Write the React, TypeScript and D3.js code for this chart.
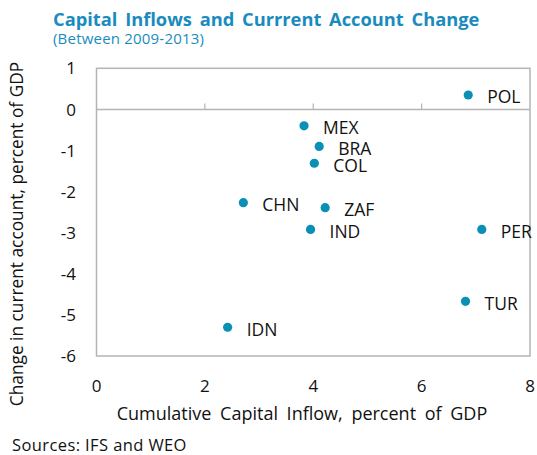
import React from "react";
import * as d3 from "d3";

const countries = ["POL", "MEX", "BRA", "COL", "CHN", "ZAF", "IND", "PER", "TUR", "IDN"];
const inflow = [6.86, 3.83, 4.11, 4.02, 2.71, 4.22, 3.95, 7.11, 6.81, 2.42];
const caChange = [0.35, -0.4, -0.9, -1.31, -2.27, -2.39, -2.92, -2.92, -4.67, -5.3];
const xTicks = [0, 2, 4, 6, 8];
const yTicks = [1, 0, -1, -2, -3, -4, -5, -6];

const W = 537;
const H = 455;
const FONT = "'Open Sans', sans-serif";
const BLUE = "#0a8fb5";
const TITLE = "#1a8bbe";
const GRID = "#b4b4b4";

export default function App() {
  const x = d3.scaleLinear().domain([0, 8]).range([96.5, 530]);
  const y = d3.scaleLinear().domain([-6, 1]).range([356, 68.3]);
  const pts = countries.map((c, i) => ({ c, x: inflow[i], y: caChange[i] }));
  return (
    <svg
      width={W}
      height={H}
      style={{ position: "absolute", left: 0, top: 0, background: "#fff" }}
      fontFamily={FONT}
    >
      <text x={53} y={25.5} fontSize={18.3} fontWeight="bold" fill={TITLE} wordSpacing={3}>
        Capital Inflows and Currrent Account Change
      </text>
      <text x={53} y={44} fontSize={15} fill={TITLE} letterSpacing={0.2}>
        (Between 2009-2013)
      </text>

      <rect
        x={x(0)}
        y={y(1)}
        width={x(8) - x(0)}
        height={y(-6) - y(1)}
        fill="none"
        stroke={GRID}
        strokeWidth={1.5}
      />
      <line x1={x(0)} x2={x(8)} y1={y(0)} y2={y(0)} stroke={GRID} strokeWidth={1.5} />
      {xTicks.slice(1, -1).map((t) => (
        <line key={t} x1={x(t)} x2={x(t)} y1={y(0)} y2={y(0) - 6} stroke={GRID} strokeWidth={1.2} />
      ))}

      {yTicks.map((t) => (
        <text key={t} x={76} y={y(t)} dy="0.36em" fontSize={17} textAnchor="end" fill="#111">
          {t}
        </text>
      ))}
      {xTicks.map((t) => (
        <text key={t} x={x(t)} y={392} fontSize={17} textAnchor="middle" fill="#111">
          {t}
        </text>
      ))}

      {pts.map((p) => (
        <g key={p.c}>
          <circle cx={x(p.x)} cy={y(p.y)} r={4.6} fill={BLUE} />
          <text x={x(p.x) + 19} y={y(p.y) + 2} dy="0.36em" fontSize={17.5} fill="#111">
            {p.c}
          </text>
        </g>
      ))}

      <text x={302} y={420} fontSize={18} textAnchor="middle" fill="#111" wordSpacing={4}>
        Cumulative Capital Inflow, percent of GDP
      </text>
      <text
        transform={`translate(23,234) rotate(-90)`}
        fontSize={17.3}
        textAnchor="middle"
        fill="#111"
      >
        Change in current account, percent of GDP
      </text>
      <text x={12} y={451} fontSize={16.5} fill="#111" letterSpacing={0.4}>
        Sources: IFS and WEO
      </text>
    </svg>
  );
}
